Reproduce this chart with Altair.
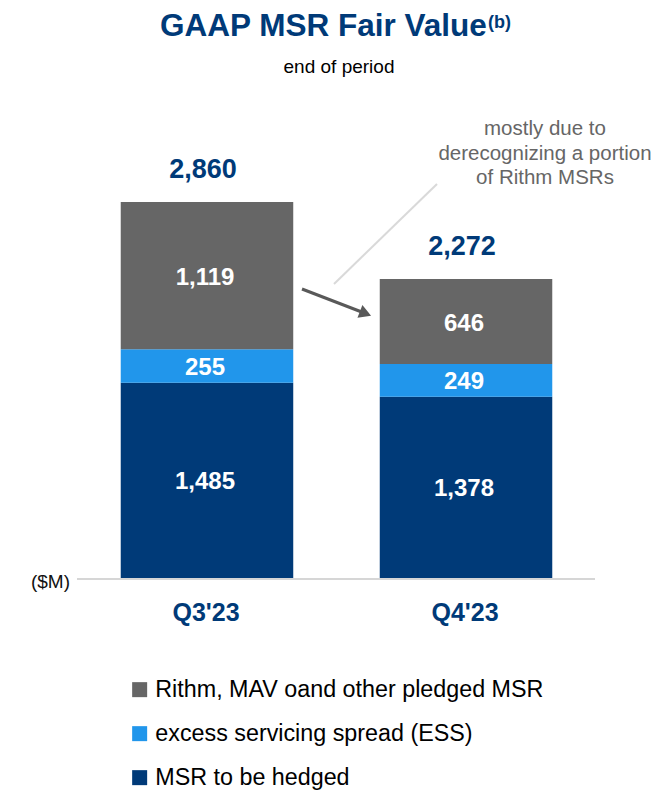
import altair as alt
import pandas as pd

# ---- data ----
quarters = ["Q3'23", "Q4'23"]
series_stack = ["MSR to be hedged", "excess servicing spread (ESS)", "Rithm, MAV oand other pledged MSR"]
msr_hedged = [1485, 1378]
ess = [255, 249]
rithm = [1119, 646]
totals = [2860, 2272]
legend_order = ["Rithm, MAV oand other pledged MSR", "excess servicing spread (ESS)", "MSR to be hedged"]
legend_colors = ["#666666", "#2196EB", "#003A78"]
title_text = ["GAAP MSR Fair Value"]
title_sup = ["(b)"]
subtitle_text = ["end of period"]
unit_text = ["($M)"]
note_lines = ["mostly due to", "derecognizing a portion", "of Rithm MSRs"]

NAVY = "#003A78"
FONT = "Liberation Sans"

rows = []
for i, q in enumerate(quarters):
    for j, (s, vals) in enumerate(zip(series_stack, [msr_hedged, ess, rithm])):
        rows.append({"quarter": q, "series": s, "value": vals[i], "ord": j,
                     "label": f"{vals[i]:,}"})
df = pd.DataFrame(rows)
tot_df = pd.DataFrame({"quarter": quarters, "total": totals,
                       "label": [f"{t:,}" for t in totals]})
one = pd.DataFrame({"a": [0]})

W, H = 517, 526
xenc = alt.X("quarter:N", sort=quarters, axis=None,
             scale=alt.Scale(paddingInner=0.334, paddingOuter=0.165))
yscale = alt.Scale(domain=[0, 4000], nice=False, zero=True)

base = alt.Chart(df).transform_stack(
    stack="value", as_=["v0", "v1"], groupby=["quarter"],
    sort=[alt.SortField("ord", order="ascending")]
).transform_calculate(mid="(datum.v0 + datum.v1) / 2")

bars = base.mark_bar().encode(
    x=xenc,
    y=alt.Y("v0:Q", scale=yscale, axis=None),
    y2="v1:Q",
    color=alt.Color("series:N", scale=alt.Scale(domain=legend_order, range=legend_colors),
                    legend=alt.Legend(title=None, orient="none", legendX=50, legendY=626,
                                      symbolType="square", symbolSize=225,
                                      symbolStrokeWidth=0, symbolOpacity=1,
                                      labelFont=FONT, labelFontSize=23.3, labelColor="#000000",
                                      labelOffset=4, labelLimit=600, rowPadding=20,
                                      padding=0, direction="vertical")),
)

seg_labels = base.mark_text(font=FONT, fontSize=24, fontWeight="bold", color="white",
                            baseline="middle", dx=-2, dy=2).encode(
    x=xenc,
    y=alt.Y("mid:Q", scale=yscale, axis=None),
    text="label:N",
)

tot_labels = alt.Chart(tot_df).mark_text(font=FONT, fontSize=27, fontWeight="bold", color=NAVY,
                                         baseline="alphabetic", dx=-4, dy=-24).encode(
    x=xenc,
    y=alt.Y("total:Q", scale=yscale, axis=None),
    text="label:N",
)

x_labels = alt.Chart(tot_df).mark_text(font=FONT, fontSize=25, fontWeight="bold", color=NAVY,
                                       baseline="middle", dx=-1).encode(
    x=xenc,
    y=alt.value(561),
    text="quarter:N",
)

baseline_rule = alt.Chart(one).mark_rule(color="#D6D6D6", strokeWidth=2).encode(
    x=alt.value(-1), x2=alt.value(517), y=alt.value(527))

title = alt.Chart(pd.DataFrame({"t": title_text})).mark_text(
    font=FONT, fontSize=31.5, fontWeight="bold", color=NAVY, align="left", baseline="alphabetic"
).encode(x=alt.value(82), y=alt.value(-16), text="t:N")

sup = alt.Chart(pd.DataFrame({"t": title_sup})).mark_text(
    font=FONT, fontSize=18, fontWeight="bold", color=NAVY, align="left", baseline="alphabetic"
).encode(x=alt.value(410), y=alt.value(-24), text="t:N")

subtitle = alt.Chart(pd.DataFrame({"t": subtitle_text})).mark_text(
    font=FONT, fontSize=19, color="#000000", align="center", baseline="alphabetic"
).encode(x=alt.value(261), y=alt.value(21), text="t:N")

unit = alt.Chart(pd.DataFrame({"t": unit_text})).mark_text(
    font=FONT, fontSize=19, color="#111111", align="right", baseline="middle"
).encode(x=alt.value(-8), y=alt.value(530), text="t:N")

note = alt.Chart(one).mark_text(
    font=FONT, fontSize=20.5, color="#666666", align="center", baseline="middle", lineHeight=24.5
).encode(x=alt.value(467), y=alt.value(77), text=alt.value(note_lines))

leader = alt.Chart(one).mark_rule(color="#D9D9D9", strokeWidth=2).encode(
    x=alt.value(256), y=alt.value(232), x2=alt.value(359), y2=alt.value(132))

arrow_line = alt.Chart(one).mark_rule(color="#595959", strokeWidth=3).encode(
    x=alt.value(224), y=alt.value(237), x2=alt.value(285), y2=alt.value(260.5))

arrow_head = alt.Chart(one).mark_point(shape="triangle-right", filled=True, size=190,
                                       angle=21, color="#595959", opacity=1).encode(
    x=alt.value(287.5), y=alt.value(261.5))

chart = alt.layer(
    baseline_rule, bars, seg_labels, tot_labels, x_labels, title, sup, subtitle, unit,
    note, leader, arrow_line, arrow_head
).properties(
    width=W, height=H,
    autosize=alt.AutoSizeParams(type="none"),
    padding={"left": 70, "top": 44, "right": 59, "bottom": 212},
).configure(font=FONT, background="white").configure_view(strokeWidth=0, stroke=None)

chart.save("out.html", embed_options={"renderer": "svg", "actions": False})
